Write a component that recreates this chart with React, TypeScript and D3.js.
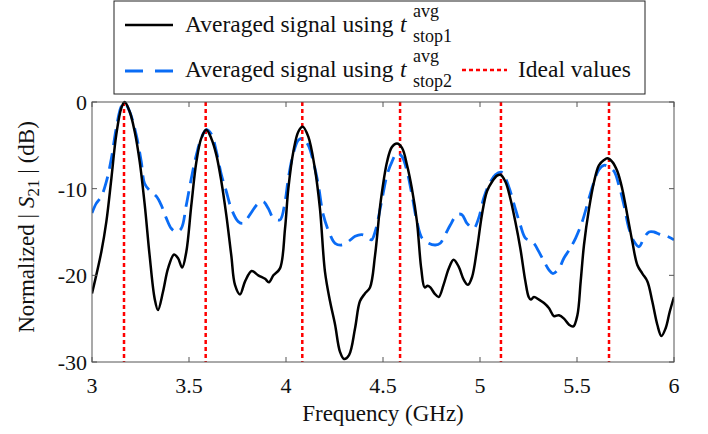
import React from "react";
import * as d3 from "d3";

const blackFreq = [3.0,3.048,3.074,3.1,3.125,3.151,3.168,3.194,3.22,3.246,3.272,3.297,3.323,3.34,3.366,3.392,3.423,3.443,3.465,3.486,3.512,3.538,3.563,3.589,3.615,3.641,3.667,3.692,3.718,3.737,3.763,3.789,3.823,3.857,3.892,3.912,3.935,3.969,3.995,4.012,4.038,4.064,4.086,4.115,4.149,4.175,4.201,4.227,4.253,4.278,4.299,4.325,4.356,4.381,4.407,4.433,4.459,4.488,4.521,4.546,4.572,4.598,4.624,4.649,4.675,4.697,4.715,4.73,4.744,4.766,4.787,4.812,4.839,4.864,4.89,4.916,4.938,4.959,4.985,5.01,5.036,5.062,5.088,5.105,5.131,5.156,5.182,5.208,5.234,5.251,5.262,5.278,5.304,5.33,5.356,5.381,5.407,5.433,5.459,5.481,5.502,5.519,5.536,5.562,5.588,5.613,5.639,5.656,5.682,5.708,5.733,5.759,5.785,5.811,5.837,5.863,5.888,5.914,5.935,5.957,5.978,6.0];
const blackDb = [-22.1,-17.3,-13.8,-8.8,-3.8,-0.7,0,-1.1,-3.4,-6.9,-11.9,-17.7,-22.7,-24.0,-21.9,-19.2,-17.6,-18.0,-19.1,-17.3,-11.9,-6.9,-4.2,-3.2,-4.2,-6.1,-9.2,-13.0,-17.7,-21.1,-22.2,-20.7,-19.5,-20.0,-20.4,-20.8,-20.0,-19.2,-14.6,-10.0,-5.7,-3.4,-2.85,-4.0,-7.7,-12.3,-19.6,-23.0,-25.7,-28.8,-29.65,-29.2,-26.1,-23.0,-22.1,-21.4,-17.7,-11.5,-6.9,-5.2,-4.8,-5.3,-7.3,-10.0,-13.8,-19.2,-21.4,-21.2,-21.4,-22.1,-22.5,-21.1,-19.2,-18.2,-19.0,-20.5,-21.1,-20.2,-16.9,-13.0,-10.3,-9.2,-8.5,-8.4,-9.2,-11.1,-13.8,-16.9,-20.7,-22.5,-22.8,-22.5,-22.8,-23.2,-23.8,-24.7,-24.6,-25.0,-25.7,-25.9,-24.6,-20.7,-16.5,-12.3,-9.2,-7.3,-6.7,-6.5,-6.9,-8.0,-10.0,-13.0,-16.1,-18.8,-19.8,-20.7,-23.0,-25.7,-27.0,-26.1,-24.2,-22.5];

const blueFreq = [3.0,3.022,3.048,3.074,3.1,3.125,3.151,3.168,3.194,3.228,3.254,3.271,3.297,3.332,3.357,3.383,3.409,3.435,3.46,3.486,3.512,3.538,3.563,3.589,3.615,3.641,3.667,3.692,3.718,3.754,3.78,3.814,3.857,3.883,3.909,3.935,3.969,3.995,4.012,4.038,4.064,4.086,4.115,4.141,4.167,4.192,4.227,4.253,4.287,4.321,4.356,4.39,4.416,4.441,4.459,4.49,4.521,4.546,4.572,4.598,4.624,4.649,4.675,4.701,4.735,4.77,4.795,4.821,4.847,4.881,4.907,4.933,4.967,4.993,5.019,5.045,5.079,5.11,5.131,5.156,5.182,5.208,5.234,5.26,5.278,5.304,5.33,5.356,5.376,5.407,5.433,5.459,5.493,5.527,5.562,5.588,5.613,5.639,5.665,5.691,5.716,5.742,5.768,5.794,5.82,5.845,5.871,5.897,5.931,5.965,6.0];
const blueDb = [-12.8,-11.7,-10.9,-9.2,-6.5,-3.0,-0.5,-0.1,-1.1,-3.8,-6.9,-9.4,-10.2,-10.9,-11.9,-13.4,-14.6,-15.0,-14.6,-11.9,-8.8,-6.1,-4.2,-3.2,-3.7,-5.7,-8.4,-10.3,-12.3,-13.8,-14.0,-13.0,-11.7,-11.5,-12.3,-13.4,-13.6,-11.5,-8.8,-5.9,-4.4,-4.2,-5.0,-6.9,-9.6,-13.0,-15.3,-16.3,-16.5,-16.1,-15.5,-15.3,-15.5,-15.9,-15.0,-11.8,-8.4,-6.9,-5.9,-6.3,-8.0,-10.7,-13.8,-15.7,-16.3,-16.5,-16.3,-15.3,-14.2,-13.0,-13.0,-14.0,-14.6,-13.4,-11.1,-9.6,-8.4,-8.1,-8.8,-10.3,-12.3,-14.2,-15.7,-16.0,-16.3,-17.3,-18.4,-19.4,-19.8,-19.2,-18.0,-17.1,-15.7,-13.8,-11.1,-9.2,-7.8,-7.3,-7.5,-8.0,-9.6,-11.9,-14.6,-16.1,-16.7,-15.7,-15.0,-15.0,-15.3,-15.5,-15.9];

const idealFreq = [3.165, 3.586, 4.084, 4.588, 5.108, 5.665];

const xTicks = [3, 3.5, 4, 4.5, 5, 5.5, 6];
const xTickLabels = ["3", "3.5", "4", "4.5", "5", "5.5", "6"];
const yTicks = [0, -10, -20, -30];
const yTickLabels = ["0", "-10", "-20", "-30"];

const FONT = "'Liberation Serif', 'Times New Roman', serif";

export default function App() {
  const left = 92, right = 674, top = 102, bottom = 362;
  const x = d3.scaleLinear().domain([3, 6]).range([left, right]);
  const y = d3.scaleLinear().domain([-30, 0]).range([bottom, top]);
  const line = d3
    .line<[number, number]>()
    .x((d) => x(d[0]))
    .y((d) => y(d[1]))
    .curve(d3.curveCatmullRom.alpha(0.5));
  const blackPath = line(blackFreq.map((f, i) => [f, blackDb[i]]) as [number, number][]) || "";
  const bluePath = line(blueFreq.map((f, i) => [f, blueDb[i]]) as [number, number][]) || "";
  const axisColor = "#555";
  const tl = 5;
  const blue = "#0a6cf5";
  const txt = "#111";

  return (
    <div style={{ position: "absolute", left: 0, top: 0 }}>
      <svg width={708} height={434} style={{ display: "block", background: "#fff" }}>
        <defs>
          <clipPath id="plot">
            <rect x={left} y={top - 2} width={right - left} height={bottom - top + 2} />
          </clipPath>
        </defs>
        {idealFreq.map((f, i) => (
          <line key={"id" + i} x1={x(f)} x2={x(f)} y1={top} y2={bottom} stroke="#ff0000" strokeWidth={2.5} strokeDasharray="4,3" />
        ))}
        <g clipPath="url(#plot)">
          <path d={bluePath} fill="none" stroke={blue} strokeWidth={2.8} strokeDasharray="16,8" />
          <path d={blackPath} fill="none" stroke="#000" strokeWidth={2.5} />
        </g>
        <rect x={left} y={top} width={right - left} height={bottom - top} fill="none" stroke={axisColor} strokeWidth={1} />
        {xTicks.map((t, i) => (
          <g key={"xt" + i}>
            <line x1={x(t)} x2={x(t)} y1={bottom} y2={bottom - tl} stroke={axisColor} />
            <line x1={x(t)} x2={x(t)} y1={top} y2={top + tl} stroke={axisColor} />
            <text x={x(t)} y={393} textAnchor="middle" fontFamily={FONT} fontSize={22} fill={txt}>
              {xTickLabels[i]}
            </text>
          </g>
        ))}
        {yTicks.map((t, i) => (
          <g key={"yt" + i}>
            <line x1={left} x2={left + tl} y1={y(t)} y2={y(t)} stroke={axisColor} />
            <line x1={right} x2={right - tl} y1={y(t)} y2={y(t)} stroke={axisColor} />
            <text x={87} y={y(t) + 8} textAnchor="end" fontFamily={FONT} fontSize={22} fill={txt}>
              {yTickLabels[i]}
            </text>
          </g>
        ))}
        <text x={383} y={421} textAnchor="middle" fontFamily={FONT} fontSize={23} fill={txt}>
          Frequency (GHz)
        </text>
        <text transform="translate(34,227) rotate(-90)" textAnchor="middle" fontFamily={FONT} fontSize={23} fill={txt}>
          Normalized |<tspan dx={6} fontStyle="italic">S</tspan>
          <tspan fontSize={17} dy={5}>21</tspan>
          <tspan dy={-5}> | (dB)</tspan>
        </text>
        {/* legend */}
        <rect x={114} y={1} width={531} height={93} fill="#fff" stroke="#222" strokeWidth={1} />
        <line x1={125} x2={173} y1={25} y2={25} stroke="#000" strokeWidth={2.5} />
        <text x={185} y={32} fontFamily={FONT} fontSize={23.5} fill={txt}>Averaged signal using</text>
        <text x={400} y={32} fontFamily={FONT} fontSize={23.5} fontStyle="italic" fill={txt}>t</text>
        <text x={413} y={17} fontFamily={FONT} fontSize={18} fill={txt}>avg</text>
        <text x={413} y={42} fontFamily={FONT} fontSize={18} fill={txt}>stop1</text>
        <line x1={125} x2={173} y1={71} y2={71} stroke={blue} strokeWidth={2.8} strokeDasharray="18,12" />
        <text x={185} y={77} fontFamily={FONT} fontSize={23.5} fill={txt}>Averaged signal using</text>
        <text x={400} y={77} fontFamily={FONT} fontSize={23.5} fontStyle="italic" fill={txt}>t</text>
        <text x={413} y={62} fontFamily={FONT} fontSize={18} fill={txt}>avg</text>
        <text x={413} y={87} fontFamily={FONT} fontSize={18} fill={txt}>stop2</text>
        <line x1={462} x2={507} y1={70} y2={70} stroke="#ff0000" strokeWidth={2.5} strokeDasharray="4,3" />
        <text x={518} y={77} fontFamily={FONT} fontSize={23.5} fill={txt}>Ideal values</text>
      </svg>
    </div>
  );
}
